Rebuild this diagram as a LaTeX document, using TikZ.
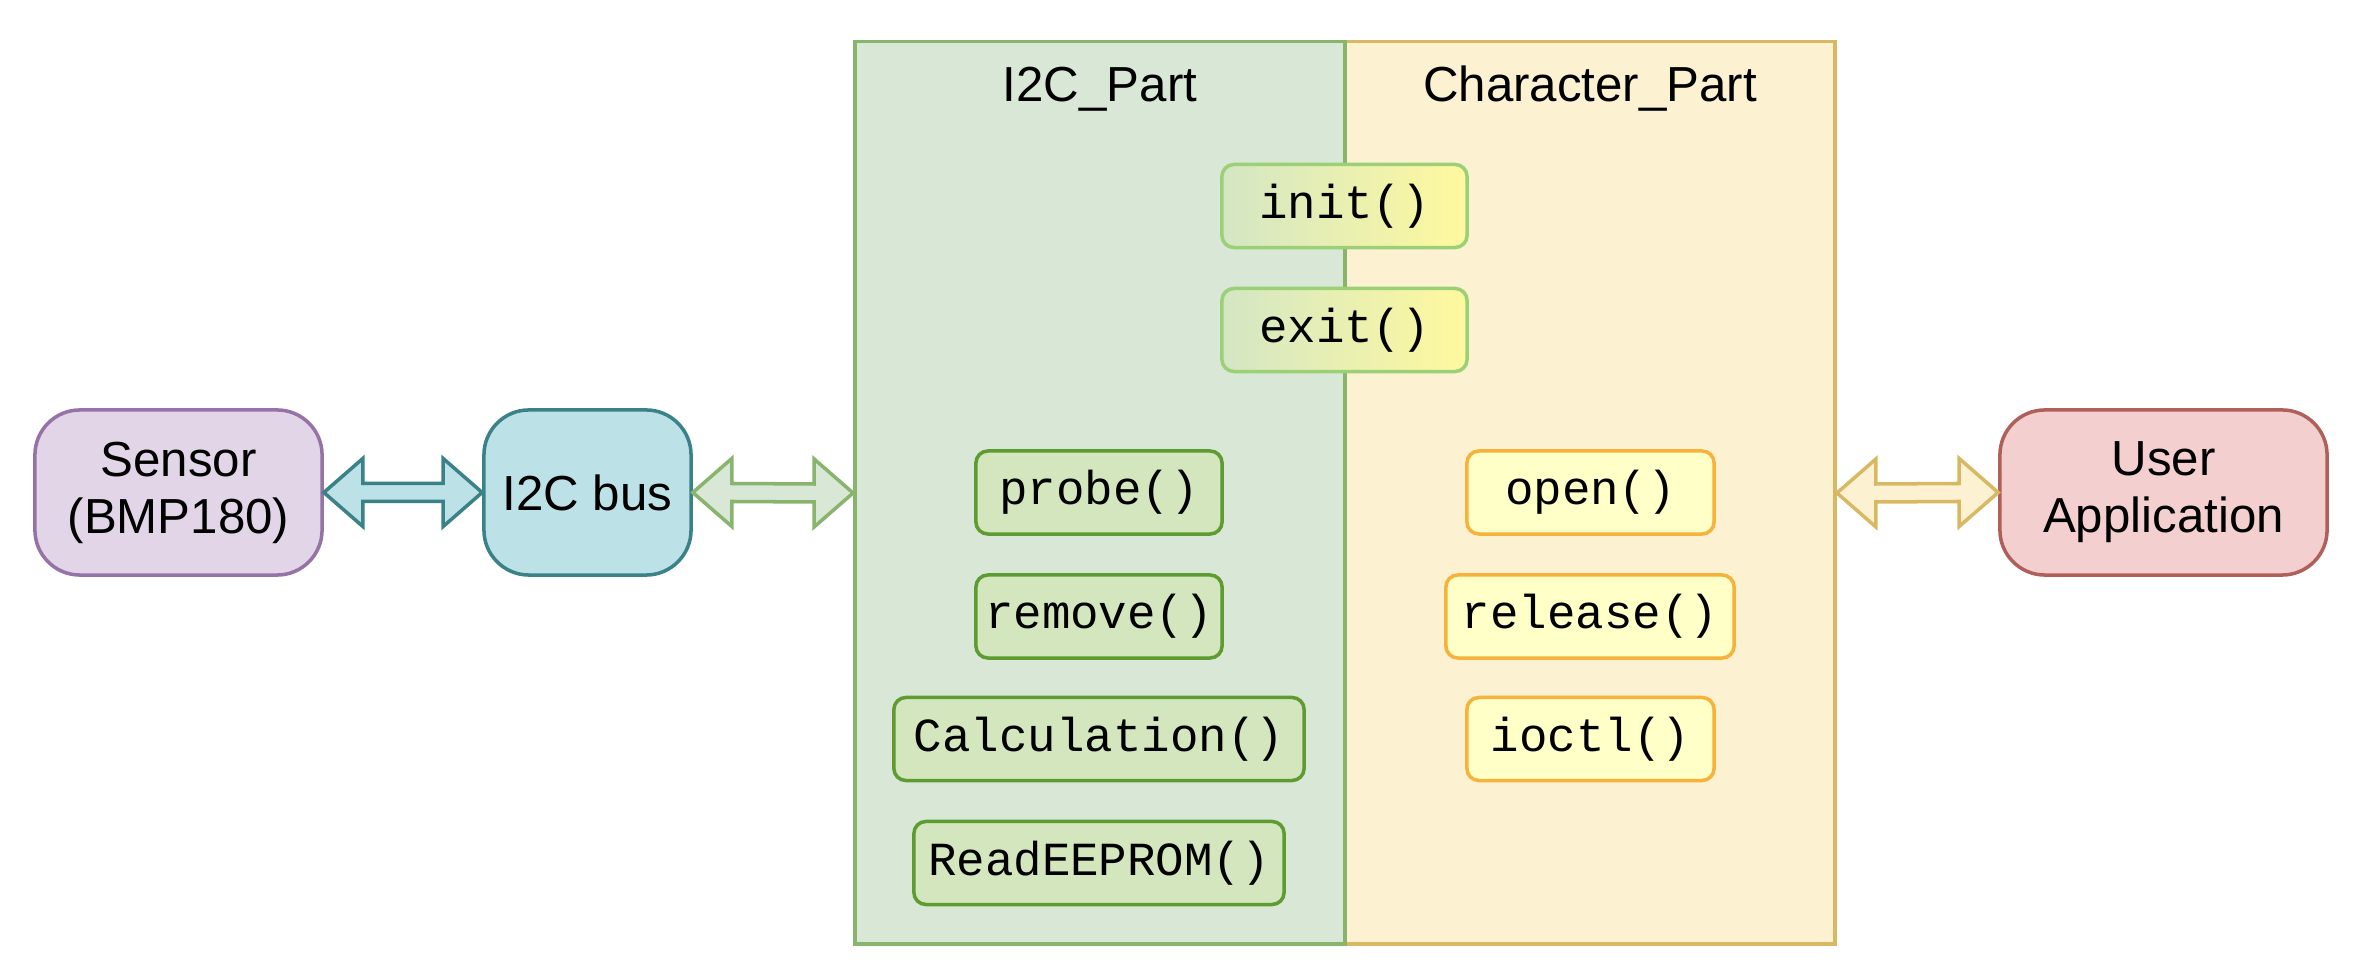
\documentclass[tikz,border=0pt]{standalone}
\usepackage{fontspec}
\setmainfont{Liberation Sans}
\setmonofont{Liberation Mono}
\usetikzlibrary{calc}
\definecolor{sensF}{HTML}{E1D5E7}\definecolor{sensD}{HTML}{9673A6}
\definecolor{busF}{HTML}{BCE1E6}\definecolor{busD}{HTML}{3A8288}
\definecolor{grF}{HTML}{D8E7D6}\definecolor{grD}{HTML}{88B46E}
\definecolor{ylF}{HTML}{FCF1D1}\definecolor{ylD}{HTML}{D8B862}
\definecolor{appF}{HTML}{F3D0CF}\definecolor{appD}{HTML}{B0605A}
\definecolor{gradL}{HTML}{D3E6C4}\definecolor{gradR}{HTML}{FFF99E}\definecolor{gradD}{HTML}{9CD076}
\definecolor{fnF}{HTML}{D3E6BD}\definecolor{fnD}{HTML}{5E9C31}
\definecolor{chF}{HTML}{FFFFC8}\definecolor{chD}{HTML}{F7B23B}
\newcommand\dblarrow[3]{%
  \draw[#1] (#2) -- ($(#2)+(39,-34)$) -- ($(#2)+(39,-9)$) -- ($(#3)+(-39,-9)$)
    -- ($(#3)+(-39,-34)$) -- (#3) -- ($(#3)+(-39,34)$) -- ($(#3)+(-39,9)$)
    -- ($(#2)+(39,9)$) -- ($(#2)+(39,34)$) -- cycle;}
\begin{document}
\begin{tikzpicture}[x=0.01cm,y=-0.01cm,
  bigbox/.style={draw,line width=1pt,rounded corners=0.45cm,minimum height=1.65cm,
    align=center,font=\fontsize{14}{16.2}\selectfont,inner sep=0pt},
  panel/.style={draw,line width=1pt,minimum width=4.9cm,minimum height=9.02cm,inner sep=0pt},
  title/.style={font=\fontsize{14}{16}\selectfont},
  fnbox/.style={draw=fnD,fill=fnF,line width=1pt,rounded corners=0.12cm,minimum height=0.83cm,
    inner sep=0pt,font=\ttfamily\fontsize{13.5}{15}\selectfont},
  chbox/.style={fnbox,draw=chD,fill=chF},
  grbox/.style={fnbox,draw=gradD,left color=gradL,right color=gradR},
  arr/.style={line width=1pt,line join=miter}]
\useasboundingbox (0,0) rectangle (2372,980);
\node[panel,draw=ylD,fill=ylF] (charpart) at (1590,493) {};
\node[panel,draw=grD,fill=grF] (i2cpart) at (1100,493) {};
\node[title] (t1) at (1100,89) {I2C\_Part};
\node[title] (t2) at (1590,89) {Character\_Part};
\node[bigbox,draw=sensD,fill=sensF,minimum width=2.87cm] (sensor) at (178.5,492.5) {Sensor\\(BMP180)};
\node[bigbox,draw=busD,fill=busF,minimum width=2.07cm] (bus) at (587.5,492.5) {I2C bus};
\node[bigbox,draw=appD,fill=appF,minimum width=3.27cm] (app) at (2163.5,492.5) {User\\Application};
\node[grbox,minimum width=2.45cm] (init) at (1344.5,206) {init()};
\node[grbox,minimum width=2.45cm] (exit) at (1344.5,330) {exit()};
\node[fnbox,minimum width=2.46cm] (probe) at (1099,492.5) {probe()};
\node[fnbox,minimum width=2.46cm] (remove) at (1099,616.5) {remove()};
\node[fnbox,minimum width=4.10cm] (calc) at (1099,739) {Calculation()};
\node[fnbox,minimum width=3.70cm] (eeprom) at (1099,863) {ReadEEPROM()};
\node[chbox,minimum width=2.47cm] (open) at (1590.5,492.5) {open()};
\node[chbox,minimum width=2.88cm] (release) at (1590,616.5) {release()};
\node[chbox,minimum width=2.47cm] (ioctl) at (1590.5,739) {ioctl()};
\dblarrow{arr,draw=busD,fill=busF}{sensor.east}{bus.west}
\dblarrow{arr,draw=grD,fill=grF}{bus.east}{i2cpart.west}
\dblarrow{arr,draw=ylD,fill=ylF}{charpart.east}{app.west}
\end{tikzpicture}
\end{document}
